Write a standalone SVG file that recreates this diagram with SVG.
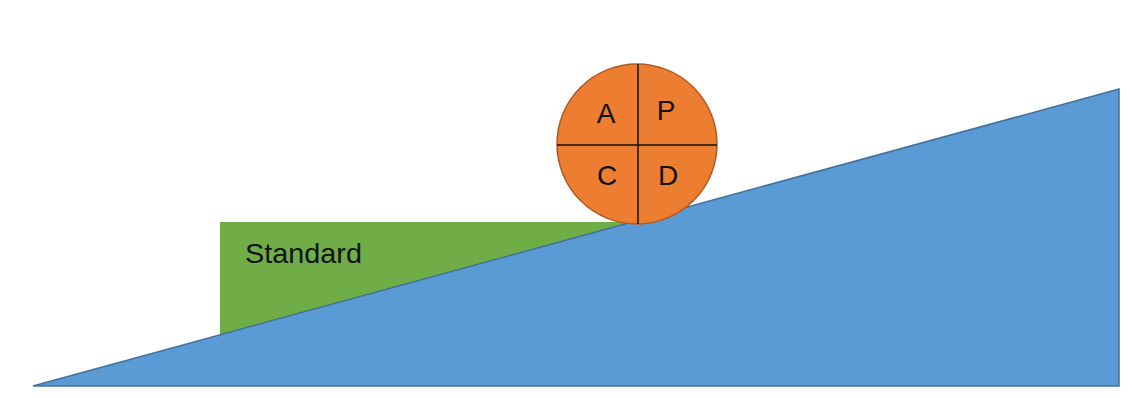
<svg xmlns="http://www.w3.org/2000/svg" width="1132" height="398" viewBox="0 0 1132 398">
<style>
text{font-family:"Liberation Sans",Arial,sans-serif;font-size:28px;fill:#111}
.q{text-anchor:middle}
</style>
<rect width="1132" height="398" fill="#fff"/>
<g id="standard">
<rect x="220" y="222" width="420" height="164" fill="#70AD47"/>
<text x="245" y="263" textLength="117" lengthAdjust="spacingAndGlyphs">Standard</text>
</g>
<g id="slope">
<polygon points="33,386 1119,89 1119,386" fill="#5B9BD5" stroke="#41719C" stroke-width="1.5"/>
</g>
<g id="pdca">
<circle cx="637" cy="144" r="80" fill="#ED7D31" stroke="#AE5A21" stroke-width="1.5"/>
<g id="connectors" stroke="#111" stroke-width="1.5">
<line x1="638" y1="64" x2="638" y2="224"/>
<line x1="557" y1="145" x2="717" y2="145"/>
</g>
<text class="q" x="606" y="123">A</text>
<text class="q" x="666" y="120">P</text>
<text class="q" x="607" y="185">C</text>
<text class="q" x="668" y="185">D</text>
</g>
</svg>
